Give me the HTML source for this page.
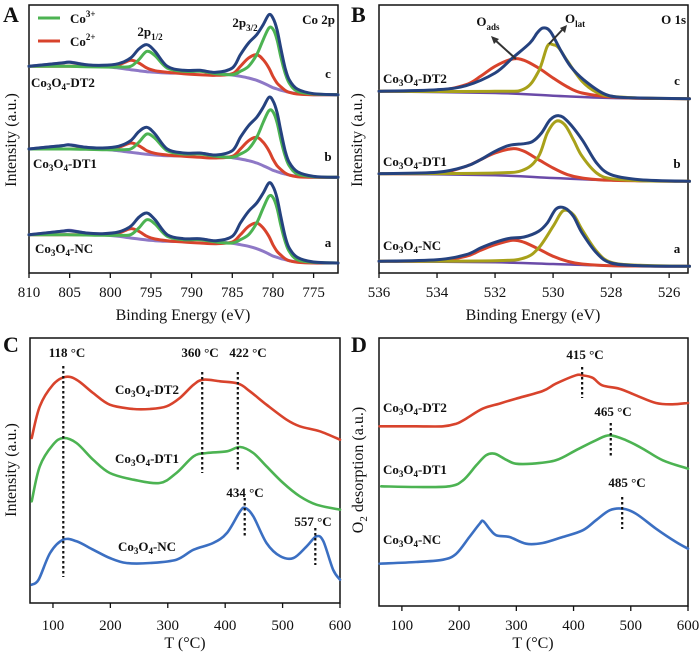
<!DOCTYPE html>
<html><head><meta charset="utf-8">
<style>
html,body{margin:0;padding:0;background:#fff;}
svg{display:block;}
svg text{font-family:"Liberation Serif","Times New Roman",Times,"DejaVu Serif",serif;}
.tk{font-size:15px;fill:#111;}
.ttl{font-size:16px;fill:#111;}
.lab{font-size:13px;font-weight:bold;fill:#111;}
.let{font-size:22px;font-weight:bold;fill:#111;}
</style></head>
<body>
<svg id="fig" width="700" height="654" viewBox="0 0 700 654"></svg>
<script>
// ---------- Panel A data (Co 2p, binding energy eV) ----------
const aEnergy = [810,806,805,803,801,799,797.5,796.5,795.5,794.5,793,791,789,787,785,784,783,782,781.2,780.5,780,779.5,779,778.5,778,777,775,772];
const aEnvelope = [620,630,632,625,623,628,645,672,685,665,620,608,608,602,615,655,690,715,745,775,765,730,670,615,580,552,538,535];
const aCo3 = [620,620,620,619,618,618,620,640,665,652,615,605,605,598,595,605,620,655,700,735,732,700,645,600,570,545,537,535];
const aCo2 = [620,620,620,620,620,625,638,630,615,607,602,598,595,593,598,620,645,655,640,615,590,570,558,548,542,537,535,535];
const aBackground = [620,630,633,625,620,615,610,607,604,602,600,600,607,600,594,590,585,578,570,562,556,552,548,545,542,538,535,535];
const aOffsets = [-505,-248,0]; // a, b, c
const aTicks = [810,805,800,795,790,785,780,775];

// ---------- Panel B data (O 1s) ----------
const bCx = [536,534,533,532,531.4,530.8,530.55,530.35,530.1,529.75,529.4,528.95,528.3,527.8,527,525.3];
const bCenv = [545,550,562,600,645,690,720,735,725,670,620,580,540,528,525,523];
const bCadsX = [536,534,533,532.5,532,531.4,531,530.5,530,529.5,529,528,527,525.3];
const bCads = [545,548,565,590,620,642,638,615,585,558,540,528,524,523];
const bClatX = [536,532,531,530.5,530.2,530,529.8,529.5,529,528.5,528,527,525.3];
const bClat = [545,545,552,605,680,685,675,635,575,542,530,525,523];
const bBgX = [536,532,530,528,525.3];
const bCbg = [545,540,532,525,523];
const bBx = [536,534,533,532.5,532,531.5,531,530.7,530.4,530.1,529.8,529.5,529,528.5,528,527,525.3];
const bBenv = [298,302,320,340,365,383,388,395,420,460,472,455,400,330,295,280,275];
const bBadsX = [536,534,533,532.5,532,531.4,531,530.5,530,529.5,529,528,525.3];
const bBads = [298,300,320,340,360,373,365,340,315,295,285,278,275];
const bBlatX = [536,532,531,530.5,530.2,529.9,529.6,529.3,529,528.5,528,527,525.3];
const bBlat = [298,300,310,350,420,455,445,400,350,300,283,277,275];
const bBbg = [298,293,285,278,275];
const bAx = [536,534,533,532.5,532,531.5,531,530.5,530.2,529.9,529.6,529.3,529,528.5,528,527,525.3];
const bAenv = [35,40,55,75,92,104,108,125,150,192,195,170,120,60,30,22,20];
const bAadsX = [536,534,533,532.5,532,531.4,531,530.5,530,529.5,529,528,525.3];
const bAads = [35,37,50,68,85,98,92,72,50,35,27,22,20];
const bAlatX = [536,532,531,530.5,530,529.65,529.3,529,528.5,528,527,525.3];
const bAlat = [35,37,45,75,140,187,175,130,65,32,23,20];
const bAbg = [35,32,27,22,20];
const bTicks = [536,534,532,530,528,526];

// ---------- Panel C data (H2-TPR) ----------
const cT2 = [63,77,100,121,141,170,199,240,269,298,321,345,362,391,423,443,472,507,530,565,600];
const cDT2 = [495,590,655,678,670,630,595,582,582,590,615,655,670,665,658,635,595,550,530,515,490];
const cT1 = [63,77,100,118,141,170,199,240,286,315,345,368,403,426,449,472,501,530,559,600];
const cDT1 = [305,410,475,495,480,430,390,370,360,390,440,450,455,468,450,410,360,320,295,280];
const cTn = [63,75,95,118,141,170,199,228,269,315,345,379,403,426,435,449,472,496,519,542,559,571,588,600];
const cNC = [55,70,150,190,185,160,135,120,120,130,160,180,210,275,285,260,180,140,135,170,200,185,100,70];
const cPeaks = [118,360,422,434,557];
const cTicks = [100,200,300,400,500,600];

// ---------- Panel D data (O2-TPD) ----------
const dT2 = [61,125,172,195,212,241,270,299,346,369,404,415,433,450,480,509,544,573,600];
const dDT2 = [539,539,539,547,562,592,607,622,645,667,692,692,685,662,652,632,609,605,609];
const dT1 = [64,125,183,207,230,247,262,282,299,328,369,404,439,463,492,521,556,600];
const dDT1 = [359,357,359,377,422,452,457,439,427,427,437,467,497,512,497,472,437,412];
const dTn = [61,125,172,195,218,236,242,253,265,288,317,346,381,416,439,463,486,509,544,579,600];
const dNC = [127,132,139,157,207,247,255,232,212,207,187,189,207,227,257,287,292,277,232,192,172];
const dPeaks = [415,465,485];
const dTicks = [100,200,300,400,500,600];

const NS = "http://www.w3.org/2000/svg";
const svg = document.getElementById('fig');
function mk(tag, attrs, parent){ const e=document.createElementNS(NS,tag); for(const k in attrs) e.setAttribute(k,attrs[k]); (parent||svg).appendChild(e); return e; }
function smooth(pts){
  let d = "M"+pts[0][0].toFixed(1)+","+pts[0][1].toFixed(1);
  for(let i=0;i<pts.length-1;i++){
    const p0=pts[Math.max(0,i-1)], p1=pts[i], p2=pts[i+1], p3=pts[Math.min(pts.length-1,i+2)];
    const c1=[p1[0]+(p2[0]-p0[0])/6, p1[1]+(p2[1]-p0[1])/6];
    const c2=[p2[0]-(p3[0]-p1[0])/6, p2[1]-(p3[1]-p1[1])/6];
    d+=" C"+c1[0].toFixed(1)+","+c1[1].toFixed(1)+" "+c2[0].toFixed(1)+","+c2[1].toFixed(1)+" "+p2[0].toFixed(1)+","+p2[1].toFixed(1);
  }
  return d;
}
function curve(xs, vs, sx, sy, color, w, name, off){
  const pts = xs.map((x,i)=>[sx(x), sy(vs[i]+(off||0))]);
  const p = mk('path',{d:smooth(pts),fill:'none',stroke:color,'stroke-width':w,'stroke-linejoin':'round','stroke-linecap':'round'});
  
  
  return p;
}
function text(x,y,str,cls,anchor,name){
  const t = mk('text',{x:x,y:y,'class':cls,'text-anchor':anchor||'start'});
  t.style.fontFamily = '"Liberation Serif","Times New Roman",Times,"DejaVu Serif",serif';
  t.innerHTML = str;
  
  
  return t;
}
function frame(l,t,r,b,ticks,sx,name,tickY){
  const f = mk('rect',{x:l,y:t,width:r-l,height:b-t,fill:'none',stroke:'#111','stroke-width':1.5});
  
  
  ticks.forEach(v=>{
    const ln = mk('line',{x1:sx(v),x2:sx(v),y1:b,y2:b+5,stroke:'#111','stroke-width':1.3});
    
    
    text(sx(v), tickY, String(v), 'tk', 'middle', name+'-x-tick-label');
  });
}
function vdot(x,y1,y2,name){
  const ln = mk('line',{x1:x,x2:x,y1:y1,y2:y2,stroke:'#111','stroke-width':2.2,'stroke-dasharray':'2.5,2.5'});
  
  
}
const CO='Co<tspan dy="3" font-size="9">3</tspan><tspan dy="-3">O</tspan><tspan dy="3" font-size="9">4</tspan><tspan dy="-3">';

// ---------- Panel A ----------
(function(){
  const L=29,R=338,T=5,B=273;
  const sx = e => L + (810-e)/(810-772)*(R-L);
  const sy = v => B - v/3;
  frame(L,T,R,B,aTicks,sx,'panel-a',297);
  const names=['a','b','c'];
  aOffsets.forEach((off,i)=>{
    curve(aEnergy,aBackground,sx,sy,'#8e78c6',3,'co2p-background-'+names[i],off);
    curve(aEnergy,aCo2,sx,sy,'#d8432c',3,'co2p-co2-fit-'+names[i],off);
    curve(aEnergy,aCo3,sx,sy,'#4cb352',3,'co2p-co3-fit-'+names[i],off);
    curve(aEnergy,aEnvelope,sx,sy,'#25427f',3,'co2p-envelope-'+names[i],off);
  });
  text(3,22,'A','let','start','panel-a-letter');
  text(183,320,'Binding Energy (eV)','ttl','middle','panel-a-x-axis-title');
  const yt=text(0,0,'Intensity (a.u.)','ttl','middle','panel-a-y-axis-title');
  yt.setAttribute('transform','translate(16,140) rotate(-90)');
  mk('line',{x1:38,x2:60,y1:18,y2:18,stroke:'#4cb352','stroke-width':3});
  mk('line',{x1:38,x2:60,y1:41,y2:41,stroke:'#d8432c','stroke-width':3});
  text(70,23,'Co<tspan dy="-6" font-size="9">3+</tspan>','lab','start','legend-co3-label');
  text(70,46,'Co<tspan dy="-6" font-size="9">2+</tspan>','lab','start','legend-co2-label');
  text(150,36,'2p<tspan dy="4" font-size="9">1/2</tspan>','lab','middle','label-2p12');
  text(245,27,'2p<tspan dy="4" font-size="9">3/2</tspan>','lab','middle','label-2p32');
  text(335,24,'Co 2p','lab','end','label-co2p');
  text(31,87,CO+'-DT2</tspan>','lab','start','label-a-dt2');
  text(33,168,CO+'-DT1</tspan>','lab','start','label-a-dt1');
  text(35,253,CO+'-NC</tspan>','lab','start','label-a-nc');
  text(328,78,'c','lab','middle','trace-c-letter');
  text(328,161,'b','lab','middle','trace-b-letter');
  text(328,247,'a','lab','middle','trace-a-letter');
})();

// ---------- Panel B ----------
(function(){
  const L=379,R=688,T=5,B=273;
  const sx = e => L + (536-e)/(536-525.35)*(R-L);
  const sy = v => B - v/3;
  frame(L,T,R,B,bTicks,sx,'panel-b',297);
  const sets=[['c',bCx,bCenv,bCadsX,bCads,bClatX,bClat,bCbg],['b',bBx,bBenv,bBadsX,bBads,bBlatX,bBlat,bBbg],['a',bAx,bAenv,bAadsX,bAads,bAlatX,bAlat,bAbg]];
  sets.forEach(s=>{
    curve(bBgX,s[7],sx,sy,'#6a4aa8',2.5,'o1s-background-'+s[0]);
    curve(s[3],s[4],sx,sy,'#d8432c',3,'o1s-oads-fit-'+s[0]);
    curve(s[5],s[6],sx,sy,'#a8a11a',3,'o1s-olat-fit-'+s[0]);
    curve(s[1],s[2],sx,sy,'#25427f',3,'o1s-envelope-'+s[0]);
  });
  text(351,22,'B','let','start','panel-b-letter');
  text(533,320,'Binding Energy (eV)','ttl','middle','panel-b-x-axis-title');
  const yt=text(0,0,'Intensity (a.u.)','ttl','middle','panel-b-y-axis-title');
  yt.setAttribute('transform','translate(362,140) rotate(-90)');
  text(686,24,'O 1s','lab','end','label-o1s');
  text(488,26,'O<tspan dy="4" font-size="9">ads</tspan>','lab','middle','label-oads');
  text(575,23,'O<tspan dy="4" font-size="9">lat</tspan>','lab','middle','label-olat');
  mk('line',{x1:516,y1:59,x2:495,y2:40,stroke:'#333','stroke-width':2});
  mk('path',{d:'M491,36 L499,39 L494,44 Z',fill:'#333'});
  mk('line',{x1:549,y1:44,x2:563,y2:29,stroke:'#333','stroke-width':2});
  mk('path',{d:'M567,25 L565,33 L560,28 Z',fill:'#333'});
  text(383,83,CO+'-DT2</tspan>','lab','start','label-b-dt2');
  text(383,166,CO+'-DT1</tspan>','lab','start','label-b-dt1');
  text(383,250,CO+'-NC</tspan>','lab','start','label-b-nc');
  text(677,85,'c','lab','middle','trace-c-letter-b');
  text(677,168,'b','lab','middle','trace-b-letter-b');
  text(677,253,'a','lab','middle','trace-a-letter-b');
})();

// ---------- Panel C ----------
(function(){
  const L=30,R=340,T=338,B=603;
  const sx = t => L + (t-60)/540*(R-L);
  const sy = v => B - v/3;
  frame(L,T,R,B,cTicks,sx,'panel-c',630);
  curve(cT2,cDT2,sx,sy,'#d8432c',2.6,'tpr-dt2-line');
  curve(cT1,cDT1,sx,sy,'#4cb352',2.6,'tpr-dt1-line');
  curve(cTn,cNC,sx,sy,'#3b6fc2',2.6,'tpr-nc-line');
  vdot(sx(cPeaks[0]),366,577,'peak-118-marker');
  vdot(sx(cPeaks[1]),372,473,'peak-360-marker');
  vdot(sx(cPeaks[2]),372,472,'peak-422-marker');
  vdot(sx(cPeaks[3]),498,537,'peak-434-marker');
  vdot(sx(cPeaks[4]),528,565,'peak-557-marker');
  text(67,357,cPeaks[0]+' °C','lab','middle','peak-118-label');
  text(200,357,cPeaks[1]+' °C','lab','middle','peak-360-label');
  text(248,357,cPeaks[2]+' °C','lab','middle','peak-422-label');
  text(245,497,cPeaks[3]+' °C','lab','middle','peak-434-label');
  text(313,526,cPeaks[4]+' °C','lab','middle','peak-557-label');
  text(147,394,CO+'-DT2</tspan>','lab','middle','label-c-dt2');
  text(147,463,CO+'-DT1</tspan>','lab','middle','label-c-dt1');
  text(147,551,CO+'-NC</tspan>','lab','middle','label-c-nc');
  text(3,352,'C','let','start','panel-c-letter');
  text(185,648,'T (°C)','ttl','middle','panel-c-x-axis-title');
  const yt=text(0,0,'Intensity (a.u.)','ttl','middle','panel-c-y-axis-title');
  yt.setAttribute('transform','translate(16,470) rotate(-90)');
})();

// ---------- Panel D ----------
(function(){
  const L=379,R=688,T=338,B=606;
  const sx = t => L + (t-60)/540*(R-L);
  const sy = v => B - v/3;
  frame(L,T,R,B,dTicks,sx,'panel-d',630);
  curve(dT2,dDT2,sx,sy,'#d8432c',2.6,'tpd-dt2-line');
  curve(dT1,dDT1,sx,sy,'#4cb352',2.6,'tpd-dt1-line');
  curve(dTn,dNC,sx,sy,'#3b6fc2',2.6,'tpd-nc-line');
  vdot(sx(dPeaks[0]),367,398,'peak-415-marker');
  vdot(sx(dPeaks[1]),423,457,'peak-465-marker');
  vdot(sx(dPeaks[2]),497,529,'peak-485-marker');
  text(585,359,dPeaks[0]+' °C','lab','middle','peak-415-label');
  text(613,416,dPeaks[1]+' °C','lab','middle','peak-465-label');
  text(627,487,dPeaks[2]+' °C','lab','middle','peak-485-label');
  text(383,412,CO+'-DT2</tspan>','lab','start','label-d-dt2');
  text(383,474,CO+'-DT1</tspan>','lab','start','label-d-dt1');
  text(383,544,CO+'-NC</tspan>','lab','start','label-d-nc');
  text(351,352,'D','let','start','panel-d-letter');
  text(533,648,'T (°C)','ttl','middle','panel-d-x-axis-title');
  const yt=text(0,0,'O<tspan dy="4" font-size="11">2</tspan><tspan dy="-4"> desorption (a.u.)</tspan>','ttl','middle','panel-d-y-axis-title');
  yt.setAttribute('transform','translate(363,470) rotate(-90)');
})();
</script>
</body></html>
